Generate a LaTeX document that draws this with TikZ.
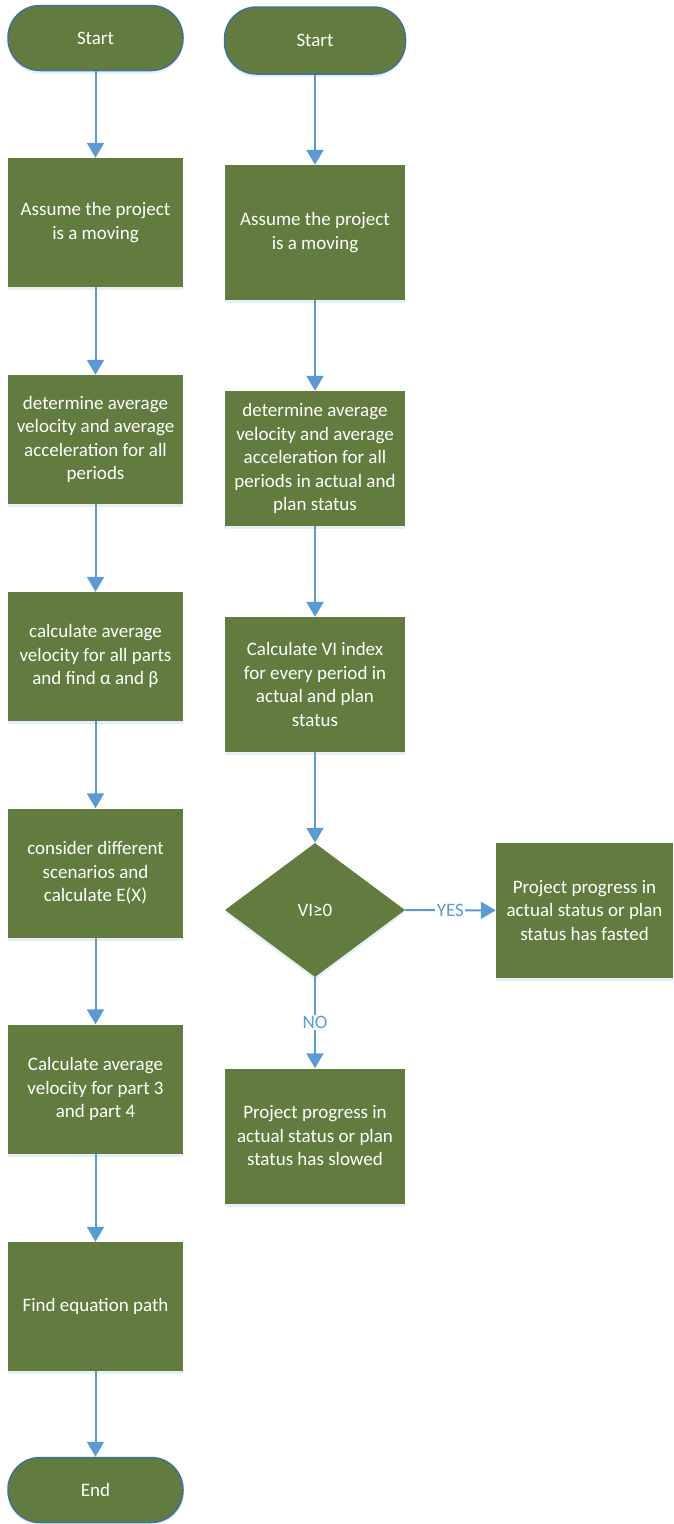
\documentclass[tikz,border=0pt]{standalone}
\usepackage{fontspec}
\setmainfont{Carlito}
\usepackage{tikz}
\usetikzlibrary{arrows.meta,shapes,positioning,shadows}
\definecolor{boxgreen}{RGB}{98,123,63}
\definecolor{flowblue}{RGB}{91,155,213}
\definecolor{rimblue}{RGB}{65,113,156}
\newcommand{\boxfont}{\fontsize{19}{23.5}\selectfont}

\begin{document}
\begin{tikzpicture}
[x=1pt,y=-1pt,
glow/.style={drop shadow={shadow xshift=0pt,shadow yshift=-3pt,fill=flowblue!45,opacity=0.35}},
flow/.style={-{Triangle[width=17pt,length=15pt]},draw=flowblue,line width=2pt},
term/.style={rectangle,rounded corners=32pt,fill=boxgreen,draw=rimblue,line width=1.5pt,
text=white,font=\boxfont,minimum width=#1,minimum height=65pt,glow},
stepbox/.style={rectangle,fill=boxgreen,text=white,align=center,font=\boxfont,
inner sep=0pt,minimum width=#1,glow},
lbox/.style={stepbox=175pt,minimum height=129pt},
rbox/.style={stepbox=180pt,minimum height=135pt},
lbl/.style={fill=white,text=flowblue,inner sep=1.5pt,font=\boxfont}]
\useasboundingbox (0,0) rectangle (673,1524);

\node (lstart) at (95.5,38) [term=175pt] {Start};
\node (l1) at (95.5,222.5) [lbox] {Assume the project\\is a moving};
\node (l2) at (95.5,439.5) [lbox] {determine average\\velocity and average\\acceleration for all\\periods};
\node (l3) at (95.5,656.5) [lbox] {calculate average\\velocity for all parts\\and find α and β};
\node (l4) at (95.5,873) [lbox] {consider different\\scenarios and\\calculate E(X)};
\node (l5) at (95.5,1089) [lbox] {Calculate average\\velocity for part 3\\and part 4};
\node (l6) at (95.5,1306.5) [lbox] {Find equation path};
\node (lend) at (95.5,1490) [term=175pt] {End};

\node (rstart) at (315,40.5) [term=181pt,minimum height=67pt] {Start};
\node (r1) at (315,232.5) [rbox] {Assume the project\\is a moving};
\node (r2) at (315,458.5) [rbox] {determine average\\velocity and average\\acceleration for all\\periods in actual and\\plan status};
\node (r3) at (315,684.5) [rbox] {Calculate VI index\\for every period in\\actual and plan\\status};
\node (vi) at (315,910) [diamond,fill=boxgreen,text=white,font=\boxfont,inner sep=0pt,
minimum width=180pt,minimum height=134pt,glow] {VI≥0};
\node (fast) at (584.5,910.5) [rbox,minimum width=177pt] {Project progress in\\actual status or plan\\status has fasted};
\node (slow) at (315,1136) [rbox] {Project progress in\\actual status or plan\\status has slowed};

\draw[flow] (lstart) -- (l1);
\draw[flow] (l1) -- (l2);
\draw[flow] (l2) -- (l3);
\draw[flow] (l3) -- (l4);
\draw[flow] (l4) -- (l5);
\draw[flow] (l5) -- (l6);
\draw[flow] (l6) -- (lend);

\draw[flow] (rstart) -- (r1);
\draw[flow] (r1) -- (r2);
\draw[flow] (r2) -- (r3);
\draw[flow] (r3) -- (vi);
\draw[flow] (vi) -- (fast) node [lbl,pos=0.5] {YES};
\draw[flow] (vi) -- (slow) node [lbl,pos=0.5] {NO};

\end{tikzpicture}
\end{document}
